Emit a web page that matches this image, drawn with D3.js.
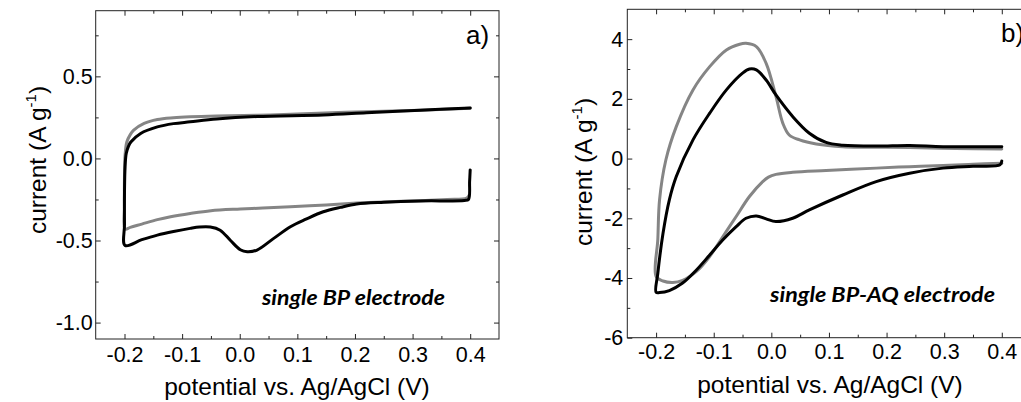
<!DOCTYPE html>
<html lang="en">
<head>
    <meta charset="UTF-8">
    <title>Cyclic voltammograms BP / BP-AQ</title>
    <script src="https://cdnjs.cloudflare.com/ajax/libs/d3/7.8.5/d3.min.js"></script>
    <style>
        body { margin: 0; background: #fff; }
        svg { display: block; }
        .tick text { font-family: 'Liberation Sans', Arial, sans-serif; font-size: 21.5px; fill: #000; }
        .axis path, .axis line { stroke: #222; stroke-width: 1; }
        .axis-title { font-family: 'Liberation Sans', Arial, sans-serif; font-size: 24.5px; fill: #000; }
        .panel-label { font-family: 'Liberation Sans', Arial, sans-serif; font-size: 26px; fill: #000; }
        .note { font-family: Lato, 'Open Sans', sans-serif; font-size: 20.5px; font-weight: 700; font-style: italic; fill: #000; }
        .cv { fill: none; stroke-width: 3; stroke-linejoin: round; stroke-linecap: round; }
    </style>
</head>
<body>
<svg id="chart" width="1021" height="402"></svg>
<script>
    // ---- data (potential V, current A/g) ----
    // panel a: single BP electrode
    const bpGray = [
        [0.398, -0.225], [0.394, -0.242], [0.36, -0.25], [0.313, -0.258], [0.25, -0.265], [0.203, -0.272],
        [0.15, -0.283], [0.088, -0.294], [0.04, -0.302], [0.001, -0.308], [-0.05, -0.318], [-0.086, -0.335],
        [-0.12, -0.355], [-0.143, -0.373], [-0.17, -0.4], [-0.19, -0.42], [-0.199, -0.43],
        [-0.2, -0.3], [-0.2, -0.1], [-0.199, 0.02], [-0.196, 0.1], [-0.19, 0.145], [-0.184, 0.172],
        [-0.166, 0.213], [-0.143, 0.237], [-0.115, 0.248], [-0.086, 0.254], [-0.04, 0.259], [0.03, 0.263],
        [0.1, 0.27], [0.2, 0.283], [0.313, 0.294], [0.4, 0.305]
    ];
    const bpBlack = [
        [0.4, -0.07], [0.399, -0.14], [0.397, -0.25], [0.39, -0.256], [0.313, -0.259], [0.25, -0.267],
        [0.203, -0.278], [0.175, -0.298], [0.145, -0.325], [0.115, -0.37], [0.088, -0.416], [0.059, -0.487],
        [0.03, -0.558], [0.013, -0.568], [0.001, -0.556], [-0.016, -0.5], [-0.034, -0.437], [-0.051, -0.418],
        [-0.07, -0.418], [-0.086, -0.426], [-0.115, -0.445], [-0.143, -0.467], [-0.17, -0.495], [-0.199, -0.53],
        [-0.2, -0.4], [-0.2, -0.2], [-0.199, -0.05], [-0.197, 0.03], [-0.193, 0.075], [-0.189, 0.1],
        [-0.172, 0.152], [-0.143, 0.192], [-0.115, 0.212], [-0.086, 0.223], [-0.04, 0.24], [0.03, 0.255],
        [0.145, 0.265], [0.22, 0.278], [0.313, 0.294], [0.4, 0.308]
    ];
    // panel b: single BP-AQ electrode
    const bpaqGray = [
        [0.4, -0.16], [0.35, -0.19], [0.298, -0.23], [0.24, -0.27], [0.182, -0.32], [0.095, -0.4],
        [0.037, -0.46], [0.008, -0.53], [-0.005, -0.62], [-0.015, -0.77], [-0.038, -1.27], [-0.061, -1.94],
        [-0.084, -2.61], [-0.107, -3.28], [-0.13, -3.78], [-0.154, -4.08], [-0.171, -4.15], [-0.188, -4.1],
        [-0.2, -3.95], [-0.197, -2.7], [-0.194, -1.38], [-0.183, -0.04], [-0.165, 1.07], [-0.136, 2.3],
        [-0.107, 3.08], [-0.078, 3.64], [-0.055, 3.83], [-0.044, 3.86], [-0.026, 3.75], [-0.009, 3.19],
        [0.008, 2.08], [0.02, 1.18], [0.031, 0.79], [0.049, 0.625], [0.078, 0.49], [0.124, 0.4],
        [0.24, 0.37], [0.32, 0.34], [0.4, 0.32]
    ];
    const bpaqBlack = [
        [0.4, -0.08], [0.397, -0.21], [0.35, -0.26], [0.298, -0.32], [0.24, -0.49], [0.182, -0.77],
        [0.124, -1.22], [0.066, -1.72], [0.037, -2.0], [0.008, -2.11], [-0.009, -2.02], [-0.026, -1.92],
        [-0.044, -2.0], [-0.061, -2.28], [-0.084, -2.72], [-0.107, -3.23], [-0.13, -3.73], [-0.154, -4.17],
        [-0.177, -4.42], [-0.194, -4.49], [-0.2, -4.48], [-0.197, -3.84], [-0.188, -2.5], [-0.177, -1.38],
        [-0.165, -0.6], [-0.136, 0.625], [-0.107, 1.52], [-0.078, 2.3], [-0.05, 2.86], [-0.038, 3.0],
        [-0.026, 2.97], [-0.009, 2.63], [0.008, 2.13], [0.037, 1.41], [0.066, 0.85], [0.095, 0.54],
        [0.124, 0.45], [0.182, 0.42], [0.24, 0.44], [0.298, 0.4], [0.4, 0.4]
    ];

    // ---- ticks ----
    const xMajor = [-0.2, -0.1, 0.0, 0.1, 0.2, 0.3, 0.4];
    const xMinor = [-0.15, -0.05, 0.05, 0.15, 0.25, 0.35];
    const aYMajor = [-1.0, -0.5, 0.0, 0.5];
    const aYMinor = [-0.75, -0.25, 0.25, 0.75];
    const bYMajor = [-6, -4, -2, 0, 2, 4];
    const bYMinor = [-5, -3, -1, 1, 3];

    const svg = d3.select('#chart');
    svg.append('rect').attr('width', 1021).attr('height', 402).attr('fill', '#fff');

    function drawPanel(cfg) {
        const x = d3.scaleLinear().domain([-0.25, 0.45]).range([cfg.left, cfg.right]);
        const y = d3.scaleLinear().domain(cfg.yDomain).range([cfg.bottom, cfg.top]);
        const g = svg.append('g');

        // box
        g.append('rect')
            .attr('x', cfg.left).attr('y', cfg.top)
            .attr('width', cfg.right - cfg.left).attr('height', cfg.bottom - cfg.top)
            .attr('fill', 'none').attr('stroke', '#222');

        const fx = d => d.toFixed(1);

        // bottom / top x axes (inward ticks)
        g.append('g').attr('class', 'axis').attr('transform', `translate(0,${cfg.bottom})`)
            .call(d3.axisBottom(x).tickValues(xMajor).tickSize(-5).tickPadding(cfg.xPad).tickFormat(fx))
            .call(a => a.select('.domain').remove());
        g.append('g').attr('class', 'axis').attr('transform', `translate(0,${cfg.bottom})`)
            .call(d3.axisBottom(x).tickValues(xMinor).tickSize(-3).tickFormat(''))
            .call(a => a.select('.domain').remove());
        g.append('g').attr('class', 'axis').attr('transform', `translate(0,${cfg.top})`)
            .call(d3.axisTop(x).tickValues(xMajor).tickSize(-5).tickFormat(''))
            .call(a => a.select('.domain').remove());
        g.append('g').attr('class', 'axis').attr('transform', `translate(0,${cfg.top})`)
            .call(d3.axisTop(x).tickValues(xMinor).tickSize(-3).tickFormat(''))
            .call(a => a.select('.domain').remove());

        // left / right y axes
        g.append('g').attr('class', 'axis').attr('transform', `translate(${cfg.left},0)`)
            .call(d3.axisLeft(y).tickValues(cfg.yMajor).tickSize(-5).tickPadding(cfg.yPad).tickFormat(cfg.yFmt))
            .call(a => a.select('.domain').remove());
        g.append('g').attr('class', 'axis').attr('transform', `translate(${cfg.left},0)`)
            .call(d3.axisLeft(y).tickValues(cfg.yMinor).tickSize(-3).tickFormat(''))
            .call(a => a.select('.domain').remove());
        g.append('g').attr('class', 'axis').attr('transform', `translate(${cfg.right},0)`)
            .call(d3.axisRight(y).tickValues(cfg.yMajor).tickSize(-5).tickFormat(''))
            .call(a => a.select('.domain').remove());
        g.append('g').attr('class', 'axis').attr('transform', `translate(${cfg.right},0)`)
            .call(d3.axisRight(y).tickValues(cfg.yMinor).tickSize(-3).tickFormat(''))
            .call(a => a.select('.domain').remove());

        // curves
        const line = d3.line()
            .x(d => x(d[0])).y(d => y(d[1]))
            .curve(d3.curveCatmullRom.alpha(0.5));
        g.append('path').datum(cfg.gray).attr('class', 'cv').attr('stroke', '#858585').attr('d', line);
        g.append('path').datum(cfg.black).attr('class', 'cv').attr('stroke', '#000').attr('d', line);

        // titles
        g.append('text').attr('class', 'axis-title')
            .attr('x', cfg.xTitleX).attr('y', cfg.xTitleY).attr('text-anchor', 'middle')
            .text('potential vs. Ag/AgCl (V)');
        const yt = g.append('text').attr('class', 'axis-title')
            .attr('transform', `translate(${cfg.yTitleX},${cfg.yTitleY}) rotate(-90)`)
            .attr('text-anchor', 'middle');
        yt.append('tspan').text('current (A g');
        yt.append('tspan').attr('font-size', 15).attr('dy', -10).text('-1');
        yt.append('tspan').attr('dy', 10).text(')');

        g.append('text').attr('class', 'panel-label')
            .attr('x', cfg.labelX).attr('y', cfg.labelY).text(cfg.label);

        g.append('text').attr('class', 'note')
            .attr('x', cfg.noteX).attr('y', cfg.noteY)
            .attr('textLength', cfg.noteW).attr('lengthAdjust', 'spacingAndGlyphs')
            .text(cfg.note);
    }

    drawPanel({
        left: 95.7, right: 499, top: 10.7, bottom: 339,
        yDomain: [-1.1, 0.9], yMajor: aYMajor, yMinor: aYMinor,
        yFmt: d => d.toFixed(1), xPad: 8, yPad: 3,
        gray: bpGray, black: bpBlack,
        xTitleX: 297, xTitleY: 395, yTitleX: 46, yTitleY: 160,
        label: 'a)', labelX: 466, labelY: 44,
        note: 'single BP electrode', noteX: 262, noteY: 305, noteW: 183
    });

    drawPanel({
        left: 627.3, right: 1030.6, top: 9.3, bottom: 337.7,
        yDomain: [-6, 5], yMajor: bYMajor, yMinor: bYMinor,
        yFmt: d => String(d), xPad: 6, yPad: 4,
        gray: bpaqGray, black: bpaqBlack,
        xTitleX: 830, xTitleY: 393, yTitleX: 592, yTitleY: 172,
        label: 'b)', labelX: 1001, labelY: 42,
        note: 'single BP-AQ electrode', noteX: 770, noteY: 302, noteW: 225
    });
</script>
</body>
</html>
